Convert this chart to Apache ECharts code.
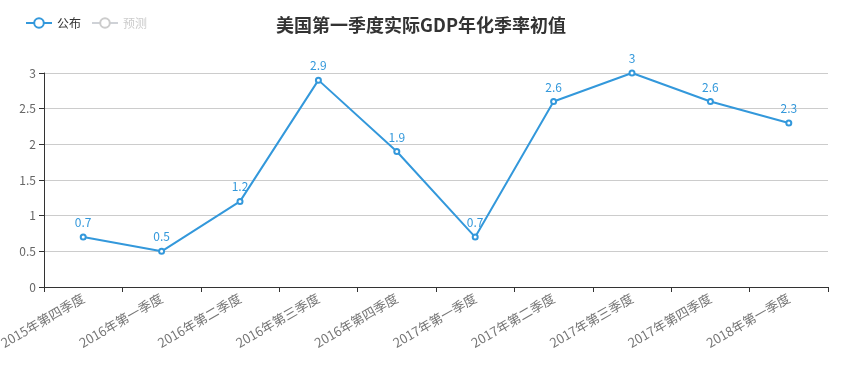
<!DOCTYPE html>
<html><head><meta charset="utf-8">
<script src="https://cdn.jsdelivr.net/npm/echarts@6/dist/echarts.min.js"></script>
<style>html,body{margin:0;padding:0;background:#fff}#c{width:842px;height:365px}</style>
</head><body><div id="c"></div>
<script>
const categories = ['2015年第四季度','2016年第一季度','2016年第二季度','2016年第三季度','2016年第四季度','2017年第一季度','2017年第二季度','2017年第三季度','2017年第四季度','2018年第一季度'];
const published = [0.7,0.5,1.2,2.9,1.9,0.7,2.6,3,2.6,2.3];
const forecast = [];
const font = '"Noto Sans CJK SC","Noto Sans",sans-serif';
const chart = echarts.init(document.getElementById('c'));
chart.setOption({
  animation:false,
  textStyle:{fontFamily:font},
  title:{text:'美国第一季度实际GDP年化季率初值',left:'center',top:11,textStyle:{fontSize:18,fontWeight:'bold',color:'#333',fontFamily:font}},
  legend:{left:20,top:12,itemGap:10,itemWidth:26,itemHeight:12,data:['公布','预测'],selected:{'公布':true,'预测':false},textStyle:{color:'#333',fontSize:12},inactiveColor:'#ccc'},
  grid:{left:44,right:14,top:73,bottom:78,containLabel:false,outerBoundsMode:'none'},
  xAxis:{type:'category',data:categories,boundaryGap:true,
    axisLine:{lineStyle:{color:'#333'}},axisTick:{show:true,length:5,lineStyle:{color:'#333'}},
    axisLabel:{rotate:30,color:'#777',fontSize:13,interval:0,margin:10}},
  yAxis:{type:'value',min:0,max:3,interval:0.5,
    axisLine:{show:true,lineStyle:{color:'#333'}},axisTick:{show:true,length:5,lineStyle:{color:'#333'}},
    axisLabel:{color:'#666',fontSize:12},splitLine:{lineStyle:{color:'#ccc'}}},
  series:[
    {name:'公布',type:'line',data:published,color:'#3398DB',symbol:'emptyCircle',symbolSize:5,
      itemStyle:{borderWidth:1.5},
      lineStyle:{width:2},label:{show:true,position:'top',color:'#3398DB',fontSize:12}},
    {name:'预测',type:'line',data:forecast,color:'#aaa',symbol:'emptyCircle',symbolSize:5}
  ]
});
</script></body></html>
